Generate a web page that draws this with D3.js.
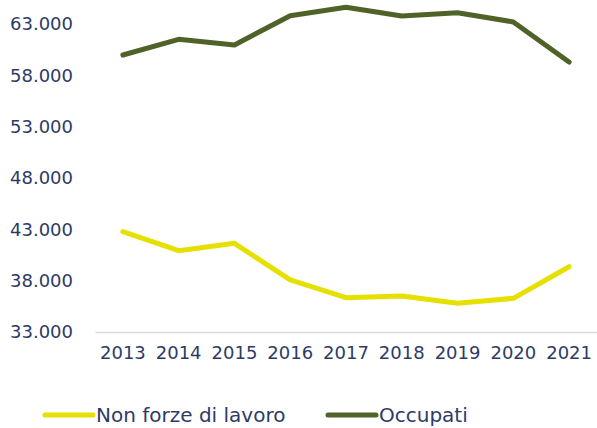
<!DOCTYPE html>
<html>
<head>
<meta charset="utf-8">
<script src="https://cdn.jsdelivr.net/npm/d3@7"></script>
<style>
  body { margin: 0; background: #fff; }
  svg text { font-family: "DejaVu Sans", sans-serif; fill: #2e3a66; }
</style>
</head>
<body>
<div id="chart"></div>
<script>
// data
var years = ['2013', '2014', '2015', '2016', '2017', '2018', '2019', '2020', '2021'];
var nonForze = [42770, 40920, 41640, 38070, 36340, 36510, 35800, 36280, 39360];
var occupati = [59980, 61510, 60960, 63810, 64630, 63780, 64100, 63200, 59300];
var yTicks = [33000, 38000, 43000, 48000, 53000, 58000, 63000];

var seriesNames = ['Non forze di lavoro', 'Occupati'];
var seriesColors = ['#e6e000', '#4f6228'];

var width = 597, height = 428;
var margin = {top: 24, right: 0, bottom: 96, left: 95};

var svg = d3.select("#chart")
    .append("svg")
    .attr("width", width)
    .attr("height", height);

var x = d3.scaleBand()
    .domain(years)
    .range([margin.left, width - margin.right]);

var y = d3.scaleLinear()
    .domain([33000, 63000])
    .range([height - margin.bottom, margin.top]);

var fmt = function (v) { return d3.format(",")(v).replace(/,/g, "."); };

// y tick labels (no axis line, no gridlines)
svg.append("g")
    .selectAll("text")
    .data(yTicks)
    .enter()
    .append("text")
    .attr("x", 73)
    .attr("y", function (d) { return y(d); })
    .attr("dy", "0.36em")
    .attr("text-anchor", "end")
    .attr("font-size", "18px")
    .text(fmt);

// x axis
var xAxis = svg.append("g")
    .attr("transform", "translate(0," + y(33000) + ")")
    .call(d3.axisBottom(x).tickSize(0).tickPadding(14));
xAxis.select(".domain").attr("stroke", "#d9d9d9").attr("stroke-width", 1.5);
xAxis.selectAll("text")
    .attr("font-size", "18px")
    .attr("font-family", "DejaVu Sans, sans-serif")
    .attr("fill", "#2e3a66");

var line = d3.line()
    .x(function (d, i) { return x(years[i]) + x.bandwidth() / 2; })
    .y(function (d) { return y(d); });

[nonForze, occupati].forEach(function (s, i) {
    svg.append("path")
        .datum(s)
        .attr("fill", "none")
        .attr("stroke", seriesColors[i])
        .attr("stroke-width", 5)
        .attr("stroke-linecap", "round")
        .attr("stroke-linejoin", "round")
        .attr("d", line);
});

// legend
var legendX = [45, 328];
var legend = svg.append("g")
    .selectAll("g")
    .data(seriesNames)
    .enter()
    .append("g")
    .attr("transform", function (d, i) { return "translate(" + legendX[i] + ",415)"; });

legend.append("line")
    .attr("x1", 0).attr("x2", 48)
    .attr("stroke", function (d, i) { return seriesColors[i]; })
    .attr("stroke-width", 5)
    .attr("stroke-linecap", "round");

legend.append("text")
    .attr("x", 51)
    .attr("dy", "0.36em")
    .attr("font-size", "20px")
    .text(function (d) { return d; });
</script>
</body>
</html>
